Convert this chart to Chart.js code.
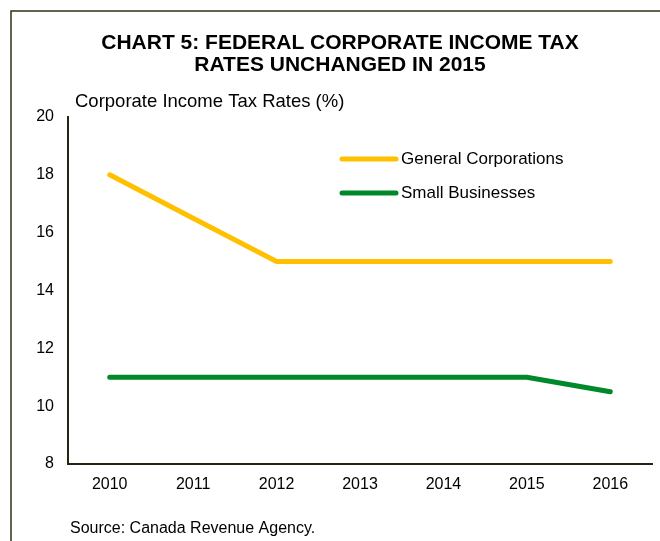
<!DOCTYPE html>
<html>
<head>
<meta charset="utf-8">
<script src="https://cdn.jsdelivr.net/npm/chart.js@4.4.1/dist/chart.umd.min.js"></script>
<style>
    html, body { margin: 0; padding: 0; background: #fff; }
    #wrap { width: 660px; height: 541px; }
</style>
</head>
<body>
<div id="wrap"><canvas id="chart" width="660" height="541"></canvas></div>
<script>
// data
const years = ['2010', '2011', '2012', '2013', '2014', '2015', '2016'];
const generalRates = [18, 16.5, 15, 15, 15, 15, 15];
const smallRates = [11, 11, 11, 11, 11, 11, 10.5];
const yTicks = [8, 10, 12, 14, 16, 18, 20];

const titleLines = ['CHART 5: FEDERAL CORPORATE INCOME TAX', 'RATES UNCHANGED IN 2015'];
const axisTitle = 'Corporate Income Tax Rates (%)';
const sourceText = 'Source: Canada Revenue Agency.';

const FONT = '"Liberation Sans", Arial, sans-serif';
const AXIS_COLOR = '#1f2812';

// title, frame, axis caption, source and the in-plot legend
const decorations = {
    id: 'decorations',
    afterDraw(chart) {
        const ctx = chart.ctx;
        const area = chart.chartArea;
        ctx.save();

        // frame (top + left edges)
        ctx.strokeStyle = '#2b3318';
        ctx.lineWidth = 1.5;
        ctx.beginPath();
        ctx.moveTo(11, 541);
        ctx.lineTo(11, 11);
        ctx.lineTo(660, 11);
        ctx.stroke();

        // title
        ctx.fillStyle = '#000';
        ctx.textAlign = 'center';
        ctx.textBaseline = 'middle';
        ctx.font = 'bold 21px ' + FONT;
        ctx.fillText(titleLines[0], 340, 43);
        ctx.fillText(titleLines[1], 340, 65.5);

        // axis caption
        ctx.textAlign = 'left';
        ctx.font = '18.5px ' + FONT;
        ctx.fillText(axisTitle, 75, 102);

        // source
        ctx.font = '16px ' + FONT;
        ctx.fillText(sourceText, 70, 529);

        // legend
        ctx.font = '17px ' + FONT;
        chart.data.datasets.forEach((ds, i) => {
            const y = area.top + 42 + i * 34;
            const x0 = area.left + 274;
            ctx.strokeStyle = ds.borderColor;
            ctx.lineWidth = 5;
            ctx.lineCap = 'round';
            ctx.beginPath();
            ctx.moveTo(x0, y);
            ctx.lineTo(x0 + 54, y);
            ctx.stroke();
            ctx.fillStyle = '#000';
            ctx.fillText(ds.label, x0 + 59, y);
        });
        ctx.restore();
    }
};

new Chart(document.getElementById('chart'), {
    type: 'line',
    data: {
        labels: years,
        datasets: [
            {
                label: 'General Corporations',
                data: generalRates,
                borderColor: '#ffc000',
                borderWidth: 5,
                borderCapStyle: 'round',
                pointRadius: 0,
                tension: 0
            },
            {
                label: 'Small Businesses',
                data: smallRates,
                borderColor: '#00892a',
                borderWidth: 5,
                borderCapStyle: 'round',
                pointRadius: 0,
                tension: 0
            }
        ]
    },
    options: {
        responsive: false,
        animation: false,
        layout: { padding: { top: 117, right: 8, bottom: 0, left: 0 } },
        plugins: {
            legend: { display: false },
            title: { display: false },
            tooltip: { enabled: false }
        },
        scales: {
            x: {
                offset: true,
                grid: { display: false, drawTicks: false },
                border: { display: true, color: AXIS_COLOR, width: 2 },
                ticks: { color: '#000', font: { family: FONT, size: 16 }, padding: 11, maxRotation: 0 },
                afterFit(scale) { scale.height = 77; }
            },
            y: {
                min: 8,
                max: 20,
                afterBuildTicks(scale) { scale.ticks = yTicks.map(v => ({ value: v })); },
                grid: { display: false, drawTicks: false },
                border: { display: true, color: AXIS_COLOR, width: 2 },
                ticks: { color: '#000', font: { family: FONT, size: 16 }, padding: 14 },
                afterFit(scale) { scale.width = 68; }
            }
        }
    },
    plugins: [decorations]
});
</script>
</body>
</html>
